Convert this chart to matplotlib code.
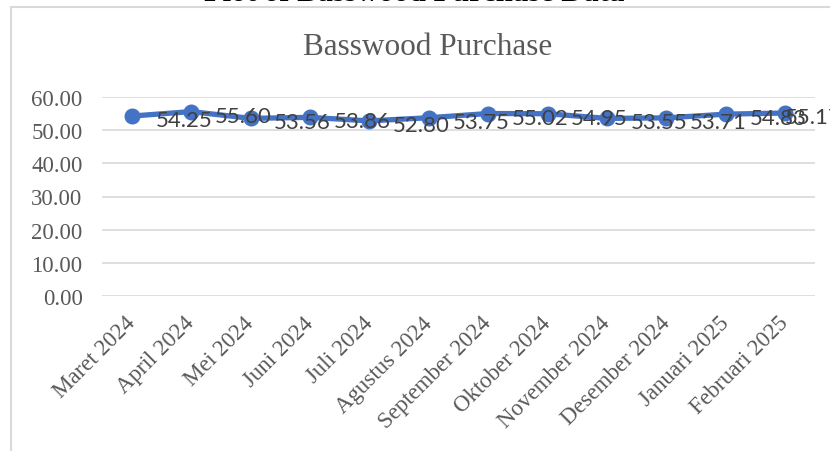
import matplotlib
matplotlib.use("Agg")
import matplotlib.pyplot as plt
from matplotlib.patches import Rectangle

# data
bulan = ["Maret 2024", "April 2024", "Mei 2024", "Juni 2024", "Juli 2024",
         "Agustus 2024", "September 2024", "Oktober 2024", "November 2024",
         "Desember 2024", "Januari 2025", "Februari 2025"]
pembelian = [54.25, 55.60, 53.56, 53.86, 52.80, 53.75,
             55.02, 54.95, 53.55, 53.71, 54.83, 55.17]
y_ticks = [0, 10, 20, 30, 40, 50, 60]

W, H = 830, 452
fig = plt.figure(figsize=(W / 100, H / 100), dpi=100)

# kotak chart (abu-abu tipis)
fig.add_artist(Rectangle((11 / W, -0.1), 1.2, 1.1 - 7.5 / H,
                         transform=fig.transFigure, fill=False,
                         edgecolor="#D9D9D9", linewidth=1.5))

# judul luar (terpotong di atas)
fig.text(414 / W, 1 - 1 / H, "Plot of Basswood Purchase Data",
         ha="center", va="baseline", fontsize=22, fontweight="bold",
         family="Liberation Serif", color="black")

# judul chart
fig.text(428 / W, 1 - 48 / H, "Basswood Purchase", ha="center", va="center",
         fontsize=22.5, family="Liberation Serif", color="#595959")

left, right = 102, 815
top, bottom = 98, 297
ax = fig.add_axes([left / W, 1 - bottom / H, (right - left) / W, (bottom - top) / H])

x = list(range(len(bulan)))
ax.plot(x, pembelian, color="#4472C4", linewidth=3.8, marker="o",
        markersize=10.5, solid_capstyle="round")

for i, v in enumerate(pembelian):
    dx = 17 if i < len(pembelian) - 1 else 0
    ax.annotate(f"{v:.2f}", (i, v), xytext=(dx, -1.5), textcoords="offset points",
                ha="left", va="center_baseline", fontsize=16, family="Lato",
                color="#404040", annotation_clip=False)

ax.set_xlim(-0.5, len(bulan) - 0.5)
ax.set_ylim(0, 60)
ax.set_yticks(y_ticks)
ax.set_yticklabels([f"{t:.2f}" for t in y_ticks])
ax.set_xticks(x)
ax.set_xticklabels(bulan, rotation=45, ha="right", va="center",
                   rotation_mode="anchor")
ax.grid(axis="y", color="#D9D9D9", linewidth=1.2)
ax.set_axisbelow(True)
for s in ax.spines.values():
    s.set_visible(False)
ax.tick_params(axis="both", length=0, labelcolor="#595959", labelsize=16.5)
ax.tick_params(axis="y", pad=14)
ax.tick_params(axis="x", pad=17)
for lab in ax.get_xticklabels() + ax.get_yticklabels():
    lab.set_family("Liberation Serif")
ax.patch.set_alpha(0)

fig.savefig("out.png", dpi=100)
